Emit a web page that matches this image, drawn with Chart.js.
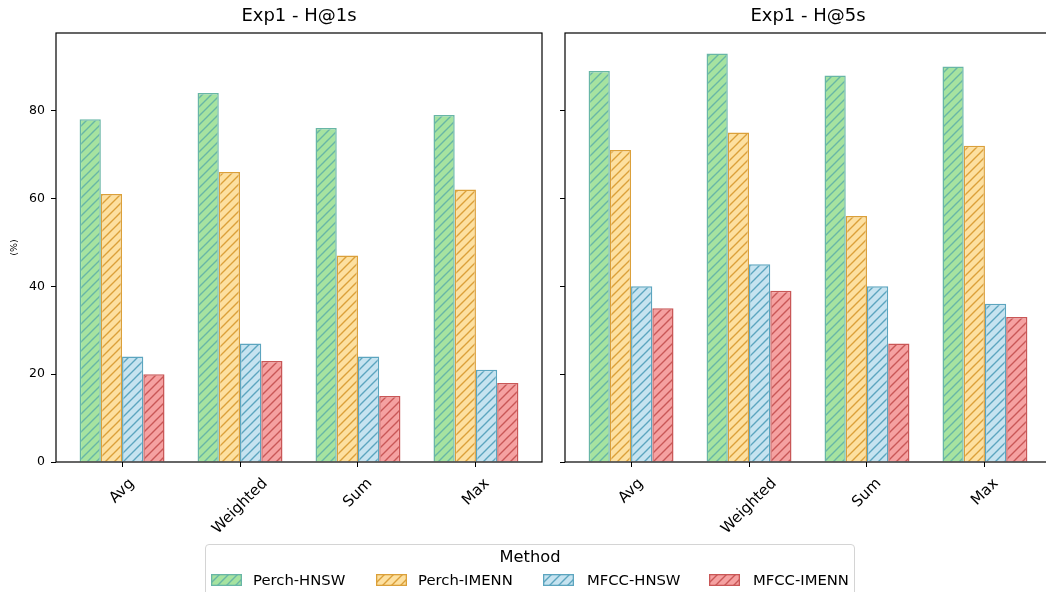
<!DOCTYPE html>
<html>
<head>
<meta charset="utf-8">
<script src="https://cdn.jsdelivr.net/npm/chart.js@4.4.1/dist/chart.umd.min.js"></script>
<style>
  html, body { margin: 0; padding: 0; background: #fff; overflow: hidden; width: 1046px; height: 592px; position: relative; font-family: "DejaVu Sans", sans-serif; }
  #c1 { position: absolute; left: 0; top: 0; }
  #c2 { position: absolute; left: 548px; top: 0; }
  .legend { position: absolute; left: 205px; top: 544px; width: 648px; height: 70px; border: 1px solid #d4d4d4; border-radius: 4px; background: #fff; }
  .legend .ttl { position: absolute; left: 0; width: 100%; text-align: center; font-size: 16.3px; line-height: 1; color: #000; }
  .legend .txt { position: absolute; font-size: 14.8px; line-height: 1; color: #000; white-space: nowrap; }
  .legend canvas { position: absolute; }
</style>
</head>
<body>
<canvas id="c1" width="548" height="545"></canvas>
<canvas id="c2" width="510" height="545"></canvas>
<div class="legend" id="legend"></div>
<script>
const categories = ['Avg', 'Weighted', 'Sum', 'Max'];
const methods = ['Perch-HNSW', 'Perch-IMENN', 'MFCC-HNSW', 'MFCC-IMENN'];
const fills = ['#a6e3a0', '#fde0a0', '#c6e3f0', '#f5a1a1'];
const edges = ['#68b6a6', '#dba03a', '#5ca5bf', '#c95757'];

// Exp1 - H@1s
const h1PerchHnsw = [78, 84, 76, 79];
const h1PerchImenn = [61, 66, 47, 62];
const h1MfccHnsw = [24, 27, 24, 21];
const h1MfccImenn = [20, 23, 15, 18];

// Exp1 - H@5s
const h5PerchHnsw = [89, 93, 88, 90];
const h5PerchImenn = [71, 75, 56, 72];
const h5MfccHnsw = [40, 45, 40, 36];
const h5MfccImenn = [35, 39, 27, 33];

const yTicks = [0, 20, 40, 60, 80];
const yMax = 97.65;
const font = '"DejaVu Sans", sans-serif';

function hatch(fill, edge) {
  const n = 9;
  const c = document.createElement('canvas');
  c.width = n; c.height = n;
  const g = c.getContext('2d');
  g.fillStyle = fill;
  g.fillRect(0, 0, n, n);
  g.strokeStyle = edge;
  g.lineWidth = 1.4;
  g.beginPath();
  g.moveTo(-2, n + 2); g.lineTo(n + 2, -2);
  g.moveTo(-2, 2); g.lineTo(2, -2);
  g.moveTo(n - 2, n + 2); g.lineTo(n + 2, n - 2);
  g.stroke();
  return g.createPattern(c, 'repeat');
}

// box round the plot + rotated category labels centred under the ticks
const framePlugin = {
  id: 'frame',
  afterDatasetsDraw(chart) {
    const { ctx, chartArea: a } = chart;
    ctx.save();
    ctx.strokeStyle = '#000';
    ctx.lineWidth = 1.2;
    ctx.strokeRect(a.left, a.top, a.right - a.left, a.bottom - a.top);
    ctx.restore();
  },
  afterDraw(chart) {
    const { ctx, chartArea: a } = chart;
    const x = chart.scales.x;
    const fs = 15;
    ctx.save();
    ctx.fillStyle = '#000';
    ctx.font = fs + 'px ' + font;
    ctx.textAlign = 'center';
    ctx.textBaseline = 'middle';
    categories.forEach((c, i) => {
      const w = ctx.measureText(c).width;
      const h = fs * 1.164;
      const cx = x.getPixelForValue(i);
      const cy = a.bottom + 13 + (w + h) * Math.SQRT1_2 / 2;
      ctx.save();
      ctx.translate(cx, cy);
      ctx.rotate(-Math.PI / 4);
      ctx.fillText(c, 0, 0);
      ctx.restore();
    });
    ctx.restore();
  }
};

function makeChart(id, title, series, showY, axisW, padRight) {
  return new Chart(document.getElementById(id), {
    type: 'bar',
    data: {
      datasets: series.map((vals, k) => ({
        label: methods[k],
        data: vals.map((v, i) => ({ x: i, y: v })),
        backgroundColor: hatch(fills[k], edges[k]),
        borderColor: edges[k],
        borderWidth: 1.5,
      })),
    },
    options: {
      responsive: false,
      animation: false,
      categoryPercentage: 0.72,
      barPercentage: 1,
      layout: { padding: { left: 0, right: padRight, top: 0, bottom: 0 } },
      plugins: {
        legend: { display: false },
        tooltip: { enabled: false },
        title: {
          display: true, text: title, fullSize: false, color: '#000',
          font: { family: font, size: 18, weight: 'normal' },
          padding: { top: 5.3, bottom: 6.1 },
        },
      },
      scales: {
        x: {
          type: 'linear', min: -0.56, max: 3.56, offset: false,
          afterBuildTicks: (s) => { s.ticks = categories.map((_, i) => ({ value: i })); },
          afterFit: (s) => { s.height = 83; },
          grid: { drawOnChartArea: false, drawTicks: true, tickLength: 5, color: '#000', offset: false },
          border: { display: false },
          ticks: { display: false },
        },
        y: {
          min: 0, max: yMax,
          afterBuildTicks: (s) => { s.ticks = yTicks.map((v) => ({ value: v })); },
          afterFit: (s) => { s.width = axisW; },
          grid: { drawOnChartArea: false, drawTicks: true, tickLength: 5, color: '#000' },
          border: { display: false },
          ticks: { display: showY, color: '#000', font: { family: font, size: 12.5 }, padding: 6 },
          title: {
            display: showY, text: '(%)', color: '#000',
            font: { family: font, size: 9.5 }, padding: { top: 9.3, bottom: 0 },
          },
        },
      },
    },
    plugins: [framePlugin],
  });
}

makeChart('c1', 'Exp1 - H@1s', [h1PerchHnsw, h1PerchImenn, h1MfccHnsw, h1MfccImenn], true, 56, 6);
makeChart('c2', 'Exp1 - H@5s', [h5PerchHnsw, h5PerchImenn, h5MfccHnsw, h5MfccImenn], false, 17, 7);

// legend
const legend = document.getElementById('legend');
const ttl = document.createElement('div');
ttl.className = 'ttl';
ttl.style.top = (549.2 - 545) + 'px';
ttl.textContent = 'Method';
legend.appendChild(ttl);

const swatchX = [211, 376, 543, 709];
const textX = [253, 418, 587, 753];
methods.forEach((m, k) => {
  const sw = document.createElement('canvas');
  sw.width = 31; sw.height = 12;
  sw.style.left = (swatchX[k] - 206) + 'px';
  sw.style.top = (574 - 545) + 'px';
  const g = sw.getContext('2d');
  g.fillStyle = hatch(fills[k], edges[k]);
  g.fillRect(0, 0, 31, 12);
  g.strokeStyle = edges[k];
  g.lineWidth = 1.3;
  g.strokeRect(0.65, 0.65, 29.7, 10.7);
  legend.appendChild(sw);

  const t = document.createElement('div');
  t.className = 'txt';
  t.style.left = (textX[k] - 206) + 'px';
  t.style.top = (572.5 - 545) + 'px';
  t.textContent = m;
  legend.appendChild(t);
});
</script>
</body>
</html>
